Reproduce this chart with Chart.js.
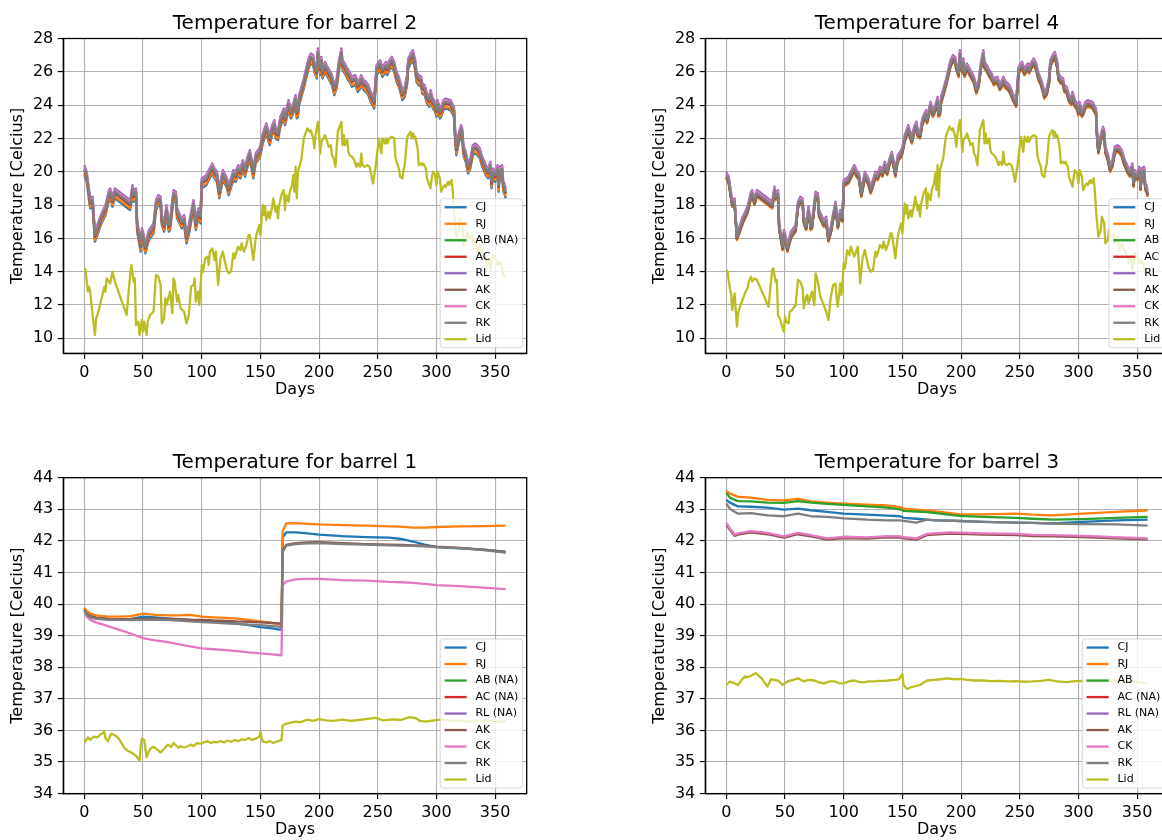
<!DOCTYPE html>
<html>
<head>
<meta charset="UTF-8">
<title>Barrel temperatures</title>
<script src="https://cdn.jsdelivr.net/npm/chart.js"></script>
<style>
body { margin: 0; width: 1162px; height: 840px; overflow: hidden; background: #fff; position: relative; }
canvas { position: absolute; }
#c2 { left: 0px; top: 0px; }
#c4 { left: 642px; top: 0px; }
#c1 { left: 0px; top: 439px; }
#c3 { left: 642px; top: 439px; }
</style>
</head>
<body>
<canvas id="c2" width="545" height="400"></canvas>
<canvas id="c4" width="545" height="400"></canvas>
<canvas id="c1" width="545" height="401"></canvas>
<canvas id="c3" width="545" height="401"></canvas>
<script>
const xTicks = [0, 50, 100, 150, 200, 250, 300, 350];
const yTicksTop = [10, 12, 14, 16, 18, 20, 22, 24, 26, 28];
const yTicksBottom = [34, 35, 36, 37, 38, 39, 40, 41, 42, 43, 44];
const colors = ['#1f77b4', '#ff7f0e', '#2ca02c', '#d62728', '#9467bd', '#8c564b', '#e377c2', '#7f7f7f', '#bcbd22'];

const names2 = ['CJ', 'RJ', 'AB (NA)', 'AC', 'RL', 'AK', 'CK', 'RK', 'Lid'];
const names4 = ['CJ', 'RJ', 'AB', 'AC', 'RL', 'AK', 'CK', 'RK', 'Lid'];
const names1 = ['CJ', 'RJ', 'AB (NA)', 'AC (NA)', 'RL (NA)', 'AK', 'CK', 'RK', 'Lid'];
const names3 = ['CJ', 'RJ', 'AB', 'AC (NA)', 'RL (NA)', 'AK', 'CK', 'RK', 'Lid'];

// barrels 2 and 4: day numbers of the readings
const bandDays = [0,2,5,7,9,14,18,21,22,24,
26,28,39,41,42,44,45,48,49,50,
52,55,59,61,63,65,66,68,70,72,
73,76,78,79,83,85,87,89,91,93,
95,97,99,100,104,106,109,111,113,115,
118,121,123,127,129,131,133,135,137,139,
141,143,144,146,149,150,152,155,158,160,
162,163,165,167,170,171,174,176,178,180,
181,182,183,185,187,189,191,193,195,196,
198,199,201,202,203,205,208,211,213,215,
217,219,220,222,224,226,228,231,233,235,
236,238,240,242,244,247,249,252,254,257,
258,260,262,264,266,268,270,271,273,275,
276,278,280,281,282,283,285,287,288,290,
292,294,295,297,299,300,301,303,304,306,
308,312,315,316,317,319,321,322,323,325,
327,329,331,333,335,337,339,341,342,344,
345,346,347,348,350,352,353,354,356,357,
358,359];

const rk2 = [20.2,19.8,18.2,18.3,16.2,17.2,17.8,18.7,18.8,18.3,
18.8,18.7,18.1,19.0,18.6,18.8,16.8,15.6,16.4,16.2,
15.5,16.3,16.7,18.1,18.4,18.3,17.2,16.8,17.8,16.8,
16.9,18.7,18.6,17.6,17.0,17.2,16.1,16.6,17.4,18.1,
16.9,17.6,17.3,19.4,19.6,19.9,20.3,20.0,19.8,18.8,
19.9,19.5,19.0,19.9,19.8,20.2,20.0,20.5,20.1,20.7,
21.1,20.4,20.0,20.9,21.2,21.4,22.1,22.7,22.0,22.6,
22.9,22.4,22.3,23.1,23.6,23.2,24.1,23.6,23.9,24.4,
23.6,23.7,24.4,24.9,25.4,26.0,26.6,26.9,26.8,26.4,
26.0,27.2,26.2,26.7,26.0,26.4,26.0,25.6,25.0,25.4,
26.5,27.2,26.5,26.3,26.0,25.8,25.5,25.6,25.2,25.4,
25.6,25.3,25.2,25.0,24.6,24.2,26.2,26.5,26.1,26.4,
26.2,26.5,26.7,26.4,25.8,25.5,25.0,24.7,24.9,25.6,
26.6,26.9,27.1,26.8,26.5,25.8,25.6,25.5,25.1,25.0,
24.5,24.3,24.7,24.2,24.0,23.7,24.1,23.6,23.7,24.1,
24.2,24.1,23.7,22.2,21.4,22.1,22.6,22.4,21.4,21.0,
20.3,20.6,21.4,21.5,21.4,21.2,20.7,20.4,20.2,20.0,
20.2,20.4,19.4,20.0,19.8,20.2,19.2,20.1,20.2,19.2,
19.1,18.8];

const ck2 = [20.3,19.9,18.3,18.4,16.3,17.3,17.9,18.8,18.9,18.4,
18.9,18.8,18.2,19.1,18.7,18.9,16.9,15.7,16.5,16.3,
15.6,16.4,16.8,18.2,18.5,18.4,17.3,16.9,17.9,16.9,
17.0,18.8,18.7,17.7,17.1,17.3,16.2,16.7,17.5,18.2,
17.0,17.7,17.4,19.5,19.7,20.0,20.4,20.1,19.9,18.9,
20.0,19.6,19.1,20.0,19.9,20.3,20.1,20.6,20.2,20.8,
21.2,20.5,20.1,21.0,21.3,21.5,22.2,22.8,22.1,22.7,
23.0,22.5,22.4,23.2,23.7,23.3,24.2,23.7,24.0,24.5,
23.7,23.8,24.5,25.0,25.5,26.1,26.7,27.0,26.9,26.5,
26.1,27.3,26.3,26.8,26.1,26.5,26.1,25.7,25.1,25.5,
26.6,27.3,26.6,26.4,26.1,25.9,25.6,25.7,25.3,25.5,
25.7,25.4,25.3,25.1,24.7,24.3,26.3,26.6,26.2,26.5,
26.3,26.6,26.8,26.5,25.9,25.6,25.1,24.8,25.0,25.7,
26.7,27.0,27.2,26.9,26.6,25.9,25.7,25.6,25.2,25.1,
24.6,24.4,24.8,24.3,24.1,23.8,24.2,23.7,23.8,24.2,
24.3,24.2,23.8,22.3,21.5,22.2,22.7,22.5,21.5,21.1,
20.4,20.7,21.5,21.6,21.5,21.3,20.8,20.5,20.3,20.1,
20.3,20.5,19.5,20.1,19.9,20.3,19.3,20.2,20.3,19.3,
19.2,18.9];

const rl2 = [20.4,20.0,18.4,18.5,16.4,17.4,18.0,18.9,19.0,18.5,
19.0,18.9,18.3,19.2,18.8,19.0,17.0,15.8,16.6,16.4,
15.7,16.5,16.9,18.3,18.6,18.5,17.4,17.0,18.0,17.0,
17.1,18.9,18.8,17.8,17.2,17.4,16.3,16.8,17.6,18.3,
17.1,17.8,17.5,19.6,19.8,20.1,20.5,20.2,20.0,19.0,
20.1,19.7,19.2,20.1,20.0,20.4,20.2,20.7,20.3,20.9,
21.3,20.6,20.2,21.1,21.4,21.6,22.3,22.9,22.2,22.8,
23.1,22.6,22.5,23.3,23.8,23.4,24.3,23.8,24.1,24.6,
23.8,23.9,24.6,25.1,25.6,26.2,26.8,27.1,27.0,26.6,
26.2,27.4,26.4,26.9,26.2,26.6,26.2,25.8,25.2,25.6,
26.7,27.4,26.7,26.5,26.2,26.0,25.7,25.8,25.4,25.6,
25.8,25.5,25.4,25.2,24.8,24.4,26.4,26.7,26.3,26.6,
26.4,26.7,26.9,26.6,26.0,25.7,25.2,24.9,25.1,25.8,
26.8,27.1,27.3,27.0,26.7,26.0,25.8,25.7,25.3,25.2,
24.7,24.5,24.9,24.4,24.2,23.9,24.3,23.8,23.9,24.3,
24.4,24.3,23.9,22.4,21.6,22.3,22.8,22.6,21.6,21.2,
20.5,20.8,21.6,21.7,21.6,21.4,20.9,20.6,20.4,20.2,
20.4,20.6,19.6,20.2,20.0,20.4,19.4,20.3,20.4,19.4,
19.3,19.0];

const ak2 = [20.1,19.7,18.1,18.2,16.1,17.1,17.7,18.6,18.7,18.2,
18.7,18.6,18.0,18.9,18.5,18.7,16.7,15.5,16.3,16.1,
15.4,16.2,16.6,18.0,18.3,18.2,17.1,16.7,17.7,16.7,
16.8,18.6,18.5,17.5,16.9,17.1,16.0,16.5,17.3,18.0,
16.8,17.5,17.2,19.3,19.5,19.8,20.2,19.9,19.7,18.7,
19.8,19.4,18.9,19.8,19.7,20.1,19.9,20.4,20.0,20.6,
21.0,20.3,19.9,20.8,21.1,21.3,22.0,22.6,21.9,22.5,
22.8,22.3,22.2,23.0,23.5,23.1,24.0,23.5,23.8,24.3,
23.5,23.6,24.3,24.8,25.3,25.9,26.5,26.8,26.7,26.3,
25.9,27.1,26.1,26.6,25.9,26.3,25.9,25.5,24.9,25.3,
26.4,27.1,26.4,26.2,25.9,25.7,25.4,25.5,25.1,25.3,
25.5,25.2,25.1,24.9,24.5,24.1,26.1,26.4,26.0,26.3,
26.1,26.4,26.6,26.3,25.7,25.4,24.9,24.6,24.8,25.5,
26.5,26.8,27.0,26.7,26.4,25.7,25.5,25.4,25.0,24.9,
24.4,24.2,24.6,24.1,23.9,23.6,24.0,23.5,23.6,24.0,
24.1,24.0,23.6,22.1,21.3,22.0,22.5,22.3,21.3,20.9,
20.2,20.5,21.3,21.4,21.3,21.1,20.6,20.3,20.1,19.9,
20.1,20.3,19.3,19.9,19.7,20.1,19.1,20.0,20.1,19.1,
19.0,18.7];

const ac2 = [20.1,19.7,18.1,18.2,16.1,17.1,17.7,18.6,18.7,18.2,
18.7,18.6,18.0,18.9,18.5,18.7,16.7,15.5,16.3,16.1,
15.4,16.2,16.6,18.0,18.3,18.2,17.1,16.7,17.7,16.7,
16.8,18.6,18.5,17.5,16.9,17.1,16.0,16.5,17.3,18.0,
16.8,17.5,17.2,19.3,19.5,19.8,20.2,19.9,19.7,18.7,
19.8,19.4,18.9,19.8,19.7,20.1,19.9,20.4,20.0,20.6,
21.0,20.3,19.9,20.8,21.1,21.3,22.0,22.6,21.9,22.5,
22.8,22.3,22.2,23.0,23.5,23.1,24.0,23.5,23.8,24.3,
23.5,23.6,24.3,24.8,25.3,25.9,26.5,26.8,26.7,26.3,
25.9,27.1,26.1,26.6,25.9,26.3,25.9,25.5,24.9,25.3,
26.4,27.1,26.4,26.2,25.9,25.7,25.4,25.5,25.1,25.3,
25.5,25.2,25.1,24.9,24.5,24.1,26.1,26.4,26.0,26.3,
26.1,26.4,26.6,26.3,25.7,25.4,24.9,24.6,24.8,25.5,
26.5,26.8,27.0,26.7,26.4,25.7,25.5,25.4,25.0,24.9,
24.4,24.2,24.6,24.1,23.9,23.6,24.0,23.5,23.6,24.0,
24.1,24.0,23.6,22.1,21.3,22.0,22.5,22.3,21.3,20.9,
20.2,20.5,21.3,21.4,21.3,21.1,20.6,20.3,20.1,19.9,
20.1,20.3,19.3,19.9,19.7,20.1,19.1,20.0,20.1,19.1,
19.0,18.7];

const rj2 = [19.9,19.5,17.9,18.0,15.9,16.9,17.5,18.4,18.5,18.0,
18.5,18.4,17.8,18.7,18.3,18.5,16.5,15.3,16.1,15.9,
15.2,16.0,16.4,17.8,18.1,18.0,16.9,16.5,17.5,16.5,
16.6,18.4,18.3,17.3,16.7,16.9,15.8,16.3,17.1,17.8,
16.6,17.3,17.0,19.1,19.3,19.6,20.0,19.7,19.5,18.5,
19.6,19.2,18.7,19.6,19.5,19.9,19.7,20.2,19.8,20.4,
20.8,20.1,19.7,20.6,20.9,21.1,21.8,22.4,21.7,22.3,
22.6,22.1,22.0,22.8,23.3,22.9,23.8,23.3,23.6,24.1,
23.3,23.4,24.1,24.6,25.1,25.7,26.3,26.6,26.5,26.1,
25.7,26.9,25.9,26.4,25.7,26.1,25.7,25.3,24.7,25.1,
26.2,26.9,26.2,26.0,25.7,25.5,25.2,25.3,24.9,25.1,
25.3,25.0,24.9,24.7,24.3,23.9,25.9,26.2,25.8,26.1,
25.9,26.2,26.4,26.1,25.5,25.2,24.7,24.4,24.6,25.3,
26.3,26.6,26.8,26.5,26.2,25.5,25.3,25.2,24.8,24.7,
24.2,24.0,24.4,23.9,23.7,23.4,23.8,23.3,23.4,23.8,
23.9,23.8,23.4,21.9,21.1,21.8,22.3,22.1,21.1,20.7,
20.0,20.3,21.1,21.2,21.1,20.9,20.4,20.1,19.9,19.7,
19.9,20.1,19.1,19.7,19.5,19.9,18.9,19.8,19.9,18.9,
18.8,18.5];

const cj2 = [19.8,19.4,17.8,17.9,15.8,16.8,17.4,18.3,18.4,17.9,
18.4,18.3,17.7,18.6,18.2,18.4,16.4,15.2,16.0,15.8,
15.1,15.9,16.3,17.7,18.0,17.9,16.8,16.4,17.4,16.4,
16.5,18.3,18.2,17.2,16.6,16.8,15.7,16.2,17.0,17.7,
16.5,17.2,16.9,19.0,19.2,19.5,19.9,19.6,19.4,18.4,
19.5,19.1,18.6,19.5,19.4,19.8,19.6,20.1,19.7,20.3,
20.7,20.0,19.6,20.5,20.8,21.0,21.7,22.3,21.6,22.2,
22.5,22.0,21.9,22.7,23.2,22.8,23.7,23.2,23.5,24.0,
23.2,23.3,24.0,24.5,25.0,25.6,26.2,26.5,26.4,26.0,
25.6,26.8,25.8,26.3,25.6,26.0,25.6,25.2,24.6,25.0,
26.1,26.8,26.1,25.9,25.6,25.4,25.1,25.2,24.8,25.0,
25.2,24.9,24.8,24.6,24.2,23.8,25.8,26.1,25.7,26.0,
25.8,26.1,26.3,26.0,25.4,25.1,24.6,24.3,24.5,25.2,
26.2,26.5,26.7,26.4,26.1,25.4,25.2,25.1,24.7,24.6,
24.1,23.9,24.3,23.8,23.6,23.3,23.7,23.2,23.3,23.7,
23.8,23.7,23.3,21.8,21.0,21.7,22.2,22.0,21.0,20.6,
19.9,20.2,21.0,21.1,21.0,20.8,20.3,20.0,19.8,19.6,
19.8,20.0,19.0,19.6,19.4,19.8,18.8,19.7,19.8,18.8,
18.7,18.4];

const rl4 = [20.0,19.7,18.3,18.4,16.3,17.3,17.9,18.8,18.9,18.4,
18.9,18.8,18.2,19.1,18.7,18.9,16.9,15.7,16.5,16.3,
15.6,16.4,16.8,18.2,18.5,18.4,17.3,16.9,17.9,16.9,
17.0,18.8,18.7,17.7,17.1,17.3,16.2,16.7,17.5,18.2,
17.0,17.7,17.4,19.5,19.7,20.0,20.4,20.1,19.9,18.9,
20.0,19.6,19.1,20.0,19.9,20.3,20.1,20.6,20.2,20.8,
21.2,20.5,20.1,21.0,21.3,21.5,22.2,22.8,22.1,22.7,
23.0,22.5,22.4,23.2,23.7,23.3,24.2,23.7,24.0,24.5,
23.7,23.8,24.5,25.0,25.5,26.1,26.7,27.0,26.9,26.5,
26.1,27.3,26.3,26.8,26.1,26.5,26.1,25.7,25.1,25.5,
26.6,27.3,26.6,26.4,26.1,25.9,25.6,25.7,25.3,25.5,
25.7,25.4,25.3,25.1,24.7,24.3,26.3,26.6,26.2,26.5,
26.3,26.6,26.8,26.5,25.9,25.6,25.1,24.8,25.0,25.7,
26.7,27.0,27.2,26.9,26.6,25.9,25.7,25.6,25.2,25.1,
24.6,24.4,24.8,24.3,24.1,23.8,24.2,23.7,23.8,24.2,
24.3,24.2,23.8,22.3,21.5,22.2,22.7,22.5,21.5,21.1,
20.4,20.7,21.5,21.6,21.5,21.3,20.8,20.5,20.3,20.1,
20.3,20.5,19.5,20.1,19.9,20.3,19.3,20.2,20.3,19.3,
19.2,18.9];

const ck4 = [19.9,19.6,18.2,18.3,16.2,17.2,17.8,18.7,18.8,18.3,
18.8,18.7,18.1,19.0,18.6,18.8,16.8,15.6,16.4,16.2,
15.5,16.3,16.7,18.1,18.4,18.3,17.2,16.8,17.8,16.8,
16.9,18.7,18.6,17.6,17.0,17.2,16.1,16.6,17.4,18.1,
16.9,17.6,17.3,19.4,19.6,19.9,20.3,20.0,19.8,18.8,
19.9,19.5,19.0,19.9,19.8,20.2,20.0,20.5,20.1,20.7,
21.1,20.4,20.0,20.9,21.2,21.4,22.1,22.7,22.0,22.6,
22.9,22.4,22.3,23.1,23.6,23.2,24.1,23.6,23.9,24.4,
23.6,23.7,24.4,24.9,25.4,26.0,26.6,26.9,26.8,26.4,
26.0,27.2,26.2,26.7,26.0,26.4,26.0,25.6,25.0,25.4,
26.5,27.2,26.5,26.3,26.0,25.8,25.5,25.6,25.2,25.4,
25.6,25.3,25.2,25.0,24.6,24.2,26.2,26.5,26.1,26.4,
26.2,26.5,26.7,26.4,25.8,25.5,25.0,24.7,24.9,25.6,
26.6,26.9,27.1,26.8,26.5,25.8,25.6,25.5,25.1,25.0,
24.5,24.3,24.7,24.2,24.0,23.7,24.1,23.6,23.7,24.1,
24.2,24.1,23.7,22.2,21.4,22.1,22.6,22.4,21.4,21.0,
20.3,20.6,21.4,21.5,21.4,21.2,20.7,20.4,20.2,20.0,
20.2,20.4,19.4,20.0,19.8,20.2,19.2,20.1,20.2,19.2,
19.1,18.8];

const rk4 = [19.8,19.5,18.1,18.2,16.1,17.1,17.7,18.6,18.7,18.2,
18.7,18.6,18.0,18.9,18.5,18.7,16.7,15.5,16.3,16.1,
15.4,16.2,16.6,18.0,18.3,18.2,17.1,16.7,17.7,16.7,
16.8,18.6,18.5,17.5,16.9,17.1,16.0,16.5,17.3,18.0,
16.8,17.5,17.2,19.3,19.5,19.8,20.2,19.9,19.7,18.7,
19.8,19.4,18.9,19.8,19.7,20.1,19.9,20.4,20.0,20.6,
21.0,20.3,19.9,20.8,21.1,21.3,22.0,22.6,21.9,22.5,
22.8,22.3,22.2,23.0,23.5,23.1,24.0,23.5,23.8,24.3,
23.5,23.6,24.3,24.8,25.3,25.9,26.5,26.8,26.7,26.3,
25.9,27.1,26.1,26.6,25.9,26.3,25.9,25.5,24.9,25.3,
26.4,27.1,26.4,26.2,25.9,25.7,25.4,25.5,25.1,25.3,
25.5,25.2,25.1,24.9,24.5,24.1,26.1,26.4,26.0,26.3,
26.1,26.4,26.6,26.3,25.7,25.4,24.9,24.6,24.8,25.5,
26.5,26.8,27.0,26.7,26.4,25.7,25.5,25.4,25.0,24.9,
24.4,24.2,24.6,24.1,23.9,23.6,24.0,23.5,23.6,24.0,
24.1,24.0,23.6,22.1,21.3,22.0,22.5,22.3,21.3,20.9,
20.2,20.5,21.3,21.4,21.3,21.1,20.6,20.3,20.1,19.9,
20.1,20.3,19.3,19.9,19.7,20.1,19.1,20.0,20.1,19.1,
19.0,18.7];

const ak4 = [19.7,19.4,18.0,18.1,16.0,17.0,17.6,18.5,18.6,18.1,
18.6,18.5,17.9,18.8,18.4,18.6,16.6,15.4,16.2,16.0,
15.3,16.1,16.5,17.9,18.2,18.1,17.0,16.6,17.6,16.6,
16.7,18.5,18.4,17.4,16.8,17.0,15.9,16.4,17.2,17.9,
16.7,17.4,17.1,19.2,19.4,19.7,20.1,19.8,19.6,18.6,
19.7,19.3,18.8,19.7,19.6,20.0,19.8,20.3,19.9,20.5,
20.9,20.2,19.8,20.7,21.0,21.2,21.9,22.5,21.8,22.4,
22.7,22.2,22.1,22.9,23.4,23.0,23.9,23.4,23.7,24.2,
23.4,23.5,24.2,24.7,25.2,25.8,26.4,26.7,26.6,26.2,
25.8,27.0,26.0,26.5,25.8,26.2,25.8,25.4,24.8,25.2,
26.3,27.0,26.3,26.1,25.8,25.6,25.3,25.4,25.0,25.2,
25.4,25.1,25.0,24.8,24.4,24.0,26.0,26.3,25.9,26.2,
26.0,26.3,26.5,26.2,25.6,25.3,24.8,24.5,24.7,25.4,
26.4,26.7,26.9,26.6,26.3,25.6,25.4,25.3,24.9,24.8,
24.3,24.1,24.5,24.0,23.8,23.5,23.9,23.4,23.5,23.9,
24.0,23.9,23.5,22.0,21.2,21.9,22.4,22.2,21.2,20.8,
20.1,20.4,21.2,21.3,21.2,21.0,20.5,20.2,20.0,19.8,
20.0,20.2,19.2,19.8,19.6,20.0,19.0,19.9,20.0,19.0,
18.9,18.6];

const ac4 = [19.7,19.4,18.0,18.1,16.0,17.0,17.6,18.5,18.6,18.1,
18.6,18.5,17.9,18.8,18.4,18.6,16.6,15.4,16.2,16.0,
15.3,16.1,16.5,17.9,18.2,18.1,17.0,16.6,17.6,16.6,
16.7,18.5,18.4,17.4,16.8,17.0,15.9,16.4,17.2,17.9,
16.7,17.4,17.1,19.2,19.4,19.7,20.1,19.8,19.6,18.6,
19.7,19.3,18.8,19.7,19.6,20.0,19.8,20.3,19.9,20.5,
20.9,20.2,19.8,20.7,21.0,21.2,21.9,22.5,21.8,22.4,
22.7,22.2,22.1,22.9,23.4,23.0,23.9,23.4,23.7,24.2,
23.4,23.5,24.2,24.7,25.2,25.8,26.4,26.7,26.6,26.2,
25.8,27.0,26.0,26.5,25.8,26.2,25.8,25.4,24.8,25.2,
26.3,27.0,26.3,26.1,25.8,25.6,25.3,25.4,25.0,25.2,
25.4,25.1,25.0,24.8,24.4,24.0,26.0,26.3,25.9,26.2,
26.0,26.3,26.5,26.2,25.6,25.3,24.8,24.5,24.7,25.4,
26.4,26.7,26.9,26.6,26.3,25.6,25.4,25.3,24.9,24.8,
24.3,24.1,24.5,24.0,23.8,23.5,23.9,23.4,23.5,23.9,
24.0,23.9,23.5,22.0,21.2,21.9,22.4,22.2,21.2,20.8,
20.1,20.4,21.2,21.3,21.2,21.0,20.5,20.2,20.0,19.8,
20.0,20.2,19.2,19.8,19.6,20.0,19.0,19.9,20.0,19.0,
18.9,18.6];

const ab4 = [19.7,19.4,18.0,18.1,16.0,17.0,17.6,18.5,18.6,18.1,
18.6,18.5,17.9,18.8,18.4,18.6,16.6,15.4,16.2,16.0,
15.3,16.1,16.5,17.9,18.2,18.1,17.0,16.6,17.6,16.6,
16.7,18.5,18.4,17.4,16.8,17.0,15.9,16.4,17.2,17.9,
16.7,17.4,17.1,19.2,19.4,19.7,20.1,19.8,19.6,18.6,
19.7,19.3,18.8,19.7,19.6,20.0,19.8,20.3,19.9,20.5,
20.9,20.2,19.8,20.7,21.0,21.2,21.9,22.5,21.8,22.4,
22.7,22.2,22.1,22.9,23.4,23.0,23.9,23.4,23.7,24.2,
23.4,23.5,24.2,24.7,25.2,25.8,26.4,26.7,26.6,26.2,
25.8,27.0,26.0,26.5,25.8,26.2,25.8,25.4,24.8,25.2,
26.3,27.0,26.3,26.1,25.8,25.6,25.3,25.4,25.0,25.2,
25.4,25.1,25.0,24.8,24.4,24.0,26.0,26.3,25.9,26.2,
26.0,26.3,26.5,26.2,25.6,25.3,24.8,24.5,24.7,25.4,
26.4,26.7,26.9,26.6,26.3,25.6,25.4,25.3,24.9,24.8,
24.3,24.1,24.5,24.0,23.8,23.5,23.9,23.4,23.5,23.9,
24.0,23.9,23.5,22.0,21.2,21.9,22.4,22.2,21.2,20.8,
20.1,20.4,21.2,21.3,21.2,21.0,20.5,20.2,20.0,19.8,
20.0,20.2,19.2,19.8,19.6,20.0,19.0,19.9,20.0,19.0,
18.9,18.6];

const rj4 = [19.6,19.3,17.9,18.0,15.9,16.9,17.5,18.4,18.5,18.0,
18.5,18.4,17.8,18.7,18.3,18.5,16.5,15.3,16.1,15.9,
15.2,16.0,16.4,17.8,18.1,18.0,16.9,16.5,17.5,16.5,
16.6,18.4,18.3,17.3,16.7,16.9,15.8,16.3,17.1,17.8,
16.6,17.3,17.0,19.1,19.3,19.6,20.0,19.7,19.5,18.5,
19.6,19.2,18.7,19.6,19.5,19.9,19.7,20.2,19.8,20.4,
20.8,20.1,19.7,20.6,20.9,21.1,21.8,22.4,21.7,22.3,
22.6,22.1,22.0,22.8,23.3,22.9,23.8,23.3,23.6,24.1,
23.3,23.4,24.1,24.6,25.1,25.7,26.3,26.6,26.5,26.1,
25.7,26.9,25.9,26.4,25.7,26.1,25.7,25.3,24.7,25.1,
26.2,26.9,26.2,26.0,25.7,25.5,25.2,25.3,24.9,25.1,
25.3,25.0,24.9,24.7,24.3,23.9,25.9,26.2,25.8,26.1,
25.9,26.2,26.4,26.1,25.5,25.2,24.7,24.4,24.6,25.3,
26.3,26.6,26.8,26.5,26.2,25.5,25.3,25.2,24.8,24.7,
24.2,24.0,24.4,23.9,23.7,23.4,23.8,23.3,23.4,23.8,
23.9,23.8,23.4,21.9,21.1,21.8,22.3,22.1,21.1,20.7,
20.0,20.3,21.1,21.2,21.1,20.9,20.4,20.1,19.9,19.7,
19.9,20.1,19.1,19.7,19.5,19.9,18.9,19.8,19.9,18.9,
18.8,18.5];

const cj4 = [19.6,19.3,17.9,18.0,15.9,16.9,17.5,18.4,18.5,18.0,
18.5,18.4,17.8,18.7,18.3,18.5,16.5,15.3,16.1,15.9,
15.2,16.0,16.4,17.8,18.1,18.0,16.9,16.5,17.5,16.5,
16.6,18.4,18.3,17.3,16.7,16.9,15.8,16.3,17.1,17.8,
16.6,17.3,17.0,19.1,19.3,19.6,20.0,19.7,19.5,18.5,
19.6,19.2,18.7,19.6,19.5,19.9,19.7,20.2,19.8,20.4,
20.8,20.1,19.7,20.6,20.9,21.1,21.8,22.4,21.7,22.3,
22.6,22.1,22.0,22.8,23.3,22.9,23.8,23.3,23.6,24.1,
23.3,23.4,24.1,24.6,25.1,25.7,26.3,26.6,26.5,26.1,
25.7,26.9,25.9,26.4,25.7,26.1,25.7,25.3,24.7,25.1,
26.2,26.9,26.2,26.0,25.7,25.5,25.2,25.3,24.9,25.1,
25.3,25.0,24.9,24.7,24.3,23.9,25.9,26.2,25.8,26.1,
25.9,26.2,26.4,26.1,25.5,25.2,24.7,24.4,24.6,25.3,
26.3,26.6,26.8,26.5,26.2,25.5,25.3,25.2,24.8,24.7,
24.2,24.0,24.4,23.9,23.7,23.4,23.8,23.3,23.4,23.8,
23.9,23.8,23.4,21.9,21.1,21.8,22.3,22.1,21.1,20.7,
20.0,20.3,21.1,21.2,21.1,20.9,20.4,20.1,19.9,19.7,
19.9,20.1,19.1,19.7,19.5,19.9,18.9,19.8,19.9,18.9,
18.8,18.5];

const lidDays = [0,1,3,4,5,7,9,10,12,17,
18,19,21,22,24,26,36,39,40,42,
43,44,46,47,49,50,51,53,54,56,
59,61,63,65,66,68,69,70,73,75,
76,77,79,80,82,85,87,89,91,93,
94,95,97,98,99,100,101,103,105,106,
107,109,111,112,114,116,118,121,123,125,
127,128,131,133,134,136,138,140,141,143,
144,146,147,149,150,152,153,154,155,157,
158,160,161,163,164,165,166,168,170,171,
172,174,175,177,178,179,180,181,182,184,
185,187,188,190,192,193,195,196,197,199,
200,201,202,204,205,207,208,210,211,212,
214,215,216,217,219,220,221,222,224,225,
226,228,229,230,232,233,235,236,237,239,
241,243,244,246,248,249,251,252,253,254,
256,257,258,260,262,264,265,266,268,269,
271,272,273,275,276,278,279,280,281,282,
284,285,287,288,289,291,292,294,295,296,
297,299,300,301,303,304,306,307,308,310,
311,313,314,315,316,317,319,320,322,323,
325,326,328,330,331,333,335,337,339,341,
343,345,346,348,350,352,354,356,357,359];

const lid2 = [14.2,14.1,12.8,13.1,12.8,11.4,10.2,11.2,11.6,13.1,
12.8,13.6,13.4,13.3,14.0,13.4,11.4,13.8,14.4,13.4,
13.6,10.8,11.0,10.2,11.1,10.4,11.0,10.2,11.0,11.4,
11.6,13.8,13.7,13.2,10.9,11.2,12.4,12.0,12.8,11.5,
13.6,13.4,12.2,12.6,11.8,11.6,10.9,11.4,13.1,13.2,
13.6,12.2,12.8,12.0,13.1,14.4,14.0,14.8,14.9,14.4,
15.2,15.4,14.7,15.2,13.2,14.8,15.2,14.2,13.9,14.0,
15.1,14.8,15.5,15.3,15.7,15.2,15.6,16.2,16.2,15.2,
14.7,16.0,16.3,16.8,16.2,18.0,17.4,17.9,17.1,17.6,
17.2,17.9,18.4,17.6,17.9,17.2,18.0,18.6,18.9,17.7,
18.6,18.2,18.8,19.2,19.8,18.8,20.3,18.4,20.0,20.5,
20.8,22.0,22.2,22.6,22.4,22.5,22.0,21.4,22.2,23.0,
22.2,21.1,21.8,22.0,22.2,21.8,21.5,21.6,21.0,20.9,
20.3,21.4,22.4,22.6,23.0,21.6,22.2,21.6,21.9,21.2,
21.0,20.9,20.8,20.7,20.3,20.5,20.3,21.1,20.4,20.3,
20.4,20.3,20.0,19.3,20.2,20.8,22.0,21.6,21.1,22.0,
21.7,22.0,21.7,22.0,22.1,22.0,20.9,20.6,20.2,19.7,
19.6,20.1,20.4,22.0,22.2,22.4,22.0,22.3,22.0,22.1,
21.4,20.4,20.5,20.4,20.5,20.2,19.6,19.2,19.0,19.6,
20.0,19.8,19.2,20.0,19.6,18.8,19.1,19.2,19.1,19.4,
19.2,19.5,18.8,17.6,16.8,16.0,16.4,17.2,16.8,15.6,
15.8,16.4,16.0,16.2,15.6,16.0,15.2,15.6,15.2,15.0,
14.4,14.8,14.0,15.0,14.8,14.4,14.6,14.2,13.8,13.7];

const lid4 = [14.1,14.0,13.0,12.7,11.7,12.7,10.7,11.5,12.0,12.9,
13.0,13.4,13.7,13.4,13.6,13.5,11.9,14.1,14.2,13.4,
13.5,11.4,11.1,10.8,10.4,11.3,11.0,10.9,11.6,11.7,
12.0,13.5,13.4,13.0,11.8,12.5,12.6,12.1,12.8,12.0,
13.9,13.7,13.0,12.5,12.2,11.6,11.1,12.5,13.2,13.3,
12.4,11.9,13.3,12.6,13.4,14.5,14.2,15.3,15.0,15.5,
15.3,14.9,15.3,15.5,13.3,14.8,15.3,14.3,14.0,14.1,
15.2,14.9,15.6,15.4,15.8,15.3,15.7,16.3,16.3,15.3,
14.8,16.1,16.4,16.9,16.3,18.1,17.5,18.0,17.2,17.7,
17.3,18.0,18.5,17.7,18.0,17.3,18.1,18.7,19.0,17.8,
18.7,18.3,18.9,19.3,19.9,18.9,20.4,18.5,20.1,20.6,
20.9,22.1,22.3,22.7,22.5,22.6,22.1,21.5,22.3,23.1,
22.3,21.2,21.9,22.1,22.3,21.9,21.6,21.7,21.1,21.0,
20.4,21.5,22.5,22.7,23.1,21.7,22.3,21.7,22.0,21.3,
21.1,21.0,20.9,20.8,20.4,20.6,20.4,21.2,20.5,20.4,
20.5,20.4,20.1,19.4,20.3,20.9,22.1,21.7,21.2,22.1,
21.8,22.1,21.8,22.1,22.2,22.1,21.0,20.7,20.3,19.8,
19.7,20.2,20.5,22.1,22.3,22.5,22.1,22.4,22.1,22.2,
21.5,20.5,20.6,20.5,20.6,20.3,19.7,19.3,19.1,19.7,
20.1,19.9,19.3,20.1,19.7,18.9,19.2,19.3,19.2,19.5,
19.3,19.6,18.9,17.7,16.9,16.1,16.5,17.3,16.9,15.7,
15.9,16.5,16.1,16.3,15.7,16.1,15.3,15.7,15.3,15.1,
14.5,14.9,14.1,15.1,14.9,14.5,14.7,14.3,13.9,13.8];

// barrel 1
const days1 = [0, 2, 5, 10, 20, 30, 40, 50, 60, 70, 80, 90, 100, 110, 120, 130, 140, 150, 160, 168,
169, 172, 180, 190, 200, 220, 240, 260, 270, 280, 290, 300, 320, 340, 359];
const cj1 = [39.82, 39.72, 39.64, 39.57, 39.53, 39.52, 39.53, 39.6, 39.58, 39.55, 39.52, 39.5, 39.47, 39.45, 39.42, 39.38, 39.33, 39.27, 39.23, 39.18,
42.1, 42.27, 42.27, 42.24, 42.2, 42.15, 42.12, 42.1, 42.06, 41.98, 41.88, 41.8, 41.76, 41.72, 41.66];
const rj1 = [39.88, 39.78, 39.7, 39.64, 39.6, 39.6, 39.62, 39.7, 39.66, 39.64, 39.64, 39.66, 39.6, 39.58, 39.56, 39.54, 39.5, 39.45, 39.4, 39.35,
42.3, 42.55, 42.56, 42.54, 42.52, 42.5, 42.48, 42.46, 42.45, 42.42, 42.42, 42.44, 42.46, 42.47, 42.48];
const ak1 = [39.82, 39.7, 39.6, 39.56, 39.53, 39.52, 39.52, 39.53, 39.54, 39.53, 39.52, 39.5, 39.5, 39.48, 39.47, 39.45, 39.44, 39.42, 39.4, 39.38,
41.7, 41.87, 41.93, 41.95, 41.96, 41.93, 41.9, 41.88, 41.87, 41.86, 41.85, 41.82, 41.78, 41.72, 41.64];
const ck1 = [39.8, 39.6, 39.5, 39.42, 39.3, 39.18, 39.06, 38.92, 38.85, 38.8, 38.73, 38.66, 38.6, 38.57, 38.54, 38.51, 38.47, 38.44, 38.41, 38.38,
40.6, 40.72, 40.78, 40.8, 40.8, 40.76, 40.74, 40.7, 40.69, 40.67, 40.64, 40.6, 40.57, 40.52, 40.47];
const rk1 = [39.8, 39.66, 39.58, 39.53, 39.5, 39.5, 39.5, 39.5, 39.51, 39.5, 39.48, 39.45, 39.43, 39.41, 39.39, 39.37, 39.35, 39.33, 39.3, 39.28,
41.65, 41.85, 41.9, 41.92, 41.93, 41.9, 41.88, 41.86, 41.85, 41.84, 41.83, 41.8, 41.77, 41.71, 41.63];
const lidDays1 = [0,1,3,5,8,11,14,17,18,20,
23,25,28,30,34,37,40,44,47,48,
49,51,53,55,57,59,62,65,68,71,
74,76,80,82,85,88,91,93,96,99,
102,105,108,110,113,116,119,122,125,128,
131,134,137,140,143,146,149,150,151,152,
155,158,161,164,167,168,169,171,175,180,
184,190,195,200,206,212,220,227,234,240,
248,255,263,270,277,283,286,291,298,305,
312,319,326,333,340,347,353,359];
const lid1 = [35.72,35.65,35.78,35.7,35.8,35.78,35.88,35.95,35.75,35.66,
35.9,35.86,35.8,35.7,35.45,35.35,35.3,35.2,35.05,35.5,
35.74,35.7,35.15,35.35,35.45,35.48,35.4,35.3,35.42,35.55,
35.48,35.6,35.45,35.5,35.46,35.5,35.55,35.5,35.6,35.58,
35.62,35.66,35.6,35.64,35.62,35.66,35.62,35.68,35.64,35.7,
35.66,35.72,35.7,35.76,35.7,35.74,35.8,35.95,35.78,35.65,
35.62,35.66,35.6,35.65,35.68,35.7,36.15,36.2,36.24,36.28,
36.26,36.34,36.3,36.36,36.32,36.3,36.34,36.3,36.33,36.36,
36.4,36.32,36.35,36.33,36.42,36.38,36.3,36.28,36.32,36.35,
36.3,36.32,36.28,36.3,36.32,36.3,36.27,36.3];

// barrel 3
const days3 = [0, 3, 7, 10, 21, 35, 49, 61, 72, 86, 100, 120, 137, 148, 151, 162, 171, 177, 191, 199, 219, 247, 261, 278, 304, 332, 359];
const cj3 = [43.3, 43.21, 43.14, 43.09, 43.08, 43.05, 42.99, 43.02, 42.97, 42.92, 42.86, 42.83, 42.8, 42.78, 42.73, 42.7, 42.67, 42.65, 42.64, 42.63, 42.6, 42.58, 42.57, 42.55, 42.6, 42.65, 42.67];
const rj3 = [43.58, 43.5, 43.44, 43.39, 43.37, 43.3, 43.28, 43.33, 43.25, 43.21, 43.18, 43.15, 43.12, 43.07, 43.02, 42.99, 42.96, 42.94, 42.88, 42.84, 42.84, 42.86, 42.83, 42.81, 42.86, 42.92, 42.97];
const ab3 = [43.52, 43.37, 43.3, 43.26, 43.25, 43.21, 43.2, 43.26, 43.21, 43.17, 43.14, 43.09, 43.05, 43.0, 42.95, 42.93, 42.91, 42.89, 42.82, 42.79, 42.76, 42.73, 42.7, 42.67, 42.69, 42.73, 42.76];
const ak3 = [42.5, 42.35, 42.16, 42.2, 42.27, 42.21, 42.1, 42.21, 42.14, 42.04, 42.09, 42.07, 42.11, 42.1, 42.08, 42.04, 42.18, 42.2, 42.23, 42.22, 42.2, 42.18, 42.15, 42.14, 42.12, 42.08, 42.05];
const ck3 = [42.57, 42.39, 42.2, 42.24, 42.31, 42.25, 42.14, 42.25, 42.18, 42.08, 42.13, 42.11, 42.15, 42.14, 42.12, 42.08, 42.22, 42.24, 42.27, 42.26, 42.24, 42.22, 42.19, 42.18, 42.16, 42.12, 42.08];
const rk3 = [43.18, 43.02, 42.92, 42.86, 42.88, 42.81, 42.78, 42.86, 42.78, 42.76, 42.71, 42.67, 42.65, 42.65, 42.63, 42.58, 42.67, 42.66, 42.64, 42.63, 42.6, 42.58, 42.57, 42.55, 42.53, 42.52, 42.48];
const lidDays3 = [0,3,7,10,13,16,17,21,25,30,
35,38,44,48,52,57,61,66,70,75,
79,83,88,92,96,100,105,109,113,117,
121,126,130,134,138,143,147,150,151,154,
157,160,165,171,177,183,188,194,200,205,
212,219,226,233,240,247,254,261,268,275,
282,290,297,304,311,318,325,332,339,346,
353,359];
const lid3 = [37.44,37.55,37.49,37.44,37.6,37.71,37.68,37.73,37.81,37.65,
37.39,37.62,37.58,37.44,37.55,37.6,37.65,37.55,37.6,37.58,
37.52,37.49,37.55,37.55,37.5,37.49,37.56,37.58,37.54,37.52,
37.55,37.55,37.57,37.57,37.58,37.6,37.62,37.78,37.44,37.31,
37.36,37.39,37.44,37.58,37.6,37.62,37.65,37.62,37.63,37.6,
37.58,37.58,37.56,37.57,37.55,37.56,37.54,37.55,37.57,37.6,
37.55,37.53,37.56,37.57,37.55,37.55,37.57,37.58,37.55,37.54,
37.52,37.47];

Chart.defaults.font.family = "'DejaVu Sans', sans-serif";
Chart.defaults.color = '#000';

function pts(xs, ys) {
    return xs.map((x, k) => ({ x: x, y: ys[k] }));
}

// frame round the axes + matplotlib style legend in the lower right corner
const frameAndLegend = {
    id: 'frameAndLegend',
    afterDatasetsDraw(chart) {
        const ctx = chart.ctx;
        const a = chart.chartArea;
        ctx.save();
        ctx.strokeStyle = '#000';
        ctx.lineWidth = 1.3;
        ctx.strokeRect(a.left, a.top, a.right - a.left, a.bottom - a.top);

        const ds = chart.data.datasets;
        ctx.font = "11px 'DejaVu Sans'";
        const tw = Math.max(...ds.map(d => ctx.measureText(d.label).width));
        const pad = 4.4, hl = 22, gap = 8.8, row = 16.5;
        const w = pad * 2 + hl + gap + tw;
        const h = 17.1 + row * (ds.length - 1);
        const x = a.right - 4 - w;
        const y = a.bottom - 5.5 - h;
        ctx.beginPath();
        if (ctx.roundRect) ctx.roundRect(x, y, w, h, 3); else ctx.rect(x, y, w, h);
        ctx.fillStyle = 'rgba(255,255,255,0.8)';
        ctx.fill();
        ctx.strokeStyle = 'rgba(204,204,204,0.8)';
        ctx.lineWidth = 1;
        ctx.stroke();
        ds.forEach((d, i) => {
            const cy = y + 8.55 + i * row;
            ctx.strokeStyle = d.borderColor;
            ctx.lineWidth = 2.3;
            ctx.beginPath();
            ctx.moveTo(x + pad, cy);
            ctx.lineTo(x + pad + hl, cy);
            ctx.stroke();
            ctx.fillStyle = '#000';
            ctx.textBaseline = 'middle';
            ctx.textAlign = 'left';
            ctx.fillText(d.label, x + pad + hl + gap, cy);
        });
        ctx.restore();
    }
};

function makeChart(id, title, names, series, yMin, yMax, yTicks, g) {
    const ctx = document.getElementById(id);
    new Chart(ctx, {
        type: 'line',
        data: {
            datasets: series.map((s, i) => ({
                label: names[i],
                data: s,
                borderColor: colors[i],
                backgroundColor: colors[i],
                borderWidth: 2.3,
                borderJoinStyle: 'round',
                pointRadius: 0,
                fill: false,
                tension: 0,
                order: 8 - i
            }))
        },
        options: {
            responsive: false,
            animation: false,
            devicePixelRatio: 1,
            events: [],
            layout: { padding: { left: 0, right: 18.3, top: 0, bottom: 0 } },
            plugins: {
                legend: { display: false },
                tooltip: { enabled: false },
                title: {
                    display: true,
                    fullSize: false,
                    text: title,
                    color: '#000',
                    font: { size: 20, weight: 'normal' },
                    padding: { top: 12, bottom: g.titleBottom }
                }
            },
            scales: {
                x: {
                    type: 'linear',
                    min: -17.95,
                    max: 376.95,
                    afterBuildTicks: axis => { axis.ticks = xTicks.map(v => ({ value: v })); },
                    afterFit: axis => { axis.height = g.xh; },
                    ticks: { font: { size: 16 }, color: '#000', padding: 4, maxRotation: 0, autoSkip: false },
                    grid: { color: '#b0b0b0', lineWidth: 1.1, tickColor: '#000', tickLength: 5.5, tickWidth: 1.2 },
                    border: { color: '#000', width: 1.3 },
                    title: { display: true, text: 'Days', color: '#000', font: { size: 16 }, padding: { top: 0, bottom: g.daysBottom } }
                },
                y: {
                    type: 'linear',
                    min: yMin,
                    max: yMax,
                    afterBuildTicks: axis => { axis.ticks = yTicks.map(v => ({ value: v })); },
                    afterFit: axis => { axis.width = 63.3; },
                    ticks: { font: { size: 16 }, color: '#000', padding: 4.5, autoSkip: false },
                    grid: { color: '#b0b0b0', lineWidth: 1.1, tickColor: '#000', tickLength: 5.5, tickWidth: 1.2 },
                    border: { color: '#000', width: 1.3 },
                    title: { display: true, text: 'Temperature [Celcius]', color: '#000', font: { size: 16 }, padding: { top: 8.7, bottom: 0 } }
                }
            }
        },
        plugins: [frameAndLegend]
    });
}

const topGeom = { titleBottom: 2.5, xh: 46.7, daysBottom: 0.7 };
const bottomGeom = { titleBottom: 2.7, xh: 46.4, daysBottom: 0.7 };

makeChart('c2', 'Temperature for barrel 2', names2, [
    pts(bandDays, cj2), pts(bandDays, rj2), [], pts(bandDays, ac2), pts(bandDays, rl2),
    pts(bandDays, ak2), pts(bandDays, ck2), pts(bandDays, rk2), pts(lidDays, lid2)
], 9.1, 28, yTicksTop, topGeom);

makeChart('c4', 'Temperature for barrel 4', names4, [
    pts(bandDays, cj4), pts(bandDays, rj4), pts(bandDays, ab4), pts(bandDays, ac4), pts(bandDays, rl4),
    pts(bandDays, ak4), pts(bandDays, ck4), pts(bandDays, rk4), pts(lidDays, lid4)
], 9.1, 28, yTicksTop, topGeom);

makeChart('c1', 'Temperature for barrel 1', names1, [
    pts(days1, cj1), pts(days1, rj1), [], [], [],
    pts(days1, ak1), pts(days1, ck1), pts(days1, rk1), pts(lidDays1, lid1)
], 34, 44, yTicksBottom, bottomGeom);

makeChart('c3', 'Temperature for barrel 3', names3, [
    pts(days3, cj3), pts(days3, rj3), pts(days3, ab3), [], [],
    pts(days3, ak3), pts(days3, ck3), pts(days3, rk3), pts(lidDays3, lid3)
], 34, 44, yTicksBottom, bottomGeom);
</script>
</body>
</html>
